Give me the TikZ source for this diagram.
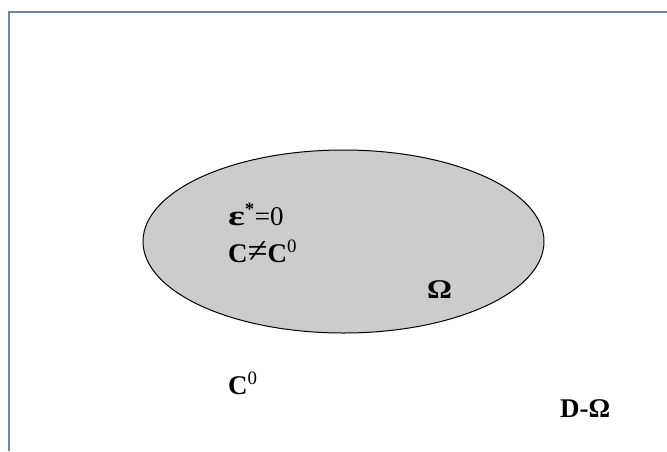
\documentclass[tikz,border=0pt]{standalone}
\usepackage{fontspec}
\usepackage{graphicx}
\usetikzlibrary{shapes.geometric}
\setmainfont{Liberation Serif}
\definecolor{framec}{RGB}{112,132,160}
\definecolor{regionc}{RGB}{204,204,204}
\newcommand{\bigeps}{\scalebox{1.45}[1.05]{ε}}
\newcommand{\bigneq}{\mdseries\scalebox{1.35}[1.3]{≠}}
\begin{document}
\begin{tikzpicture}[x=1pt,y=-1pt,
  lbl/.style={anchor=base west,inner sep=0pt,font=\fontsize{27}{31}\selectfont\bfseries},
  framestyle/.style={draw=framec,line width=2.5pt},
  regionstyle/.style={draw=black,line width=1pt,fill=regionc}]
\useasboundingbox (0,0) rectangle (667,451);
\coordinate (tr) at (667,12);
\coordinate (tl) at (9,12);
\coordinate (bl) at (9,451);
\draw[framestyle] (tr) -- (tl) -- (bl);
\node[regionstyle,ellipse,minimum width=401pt,minimum height=183pt,inner sep=0pt] (omega) at (343.5,241.5) {};
\node[lbl] (eps) at (228,225) {\bigeps\textsuperscript{*}\mdseries=0};
\node[lbl] (cneq) at (228,262) {C\bigneq\bfseries C\textsuperscript{\mdseries 0}};
\node[lbl] (om) at (427,298) {\scalebox{1.15}[1]{Ω}};
\node[lbl] (c0) at (228,394) {C\textsuperscript{\mdseries 0}};
\node[lbl] (dom) at (560,417) {D-Ω};
\end{tikzpicture}
\end{document}
